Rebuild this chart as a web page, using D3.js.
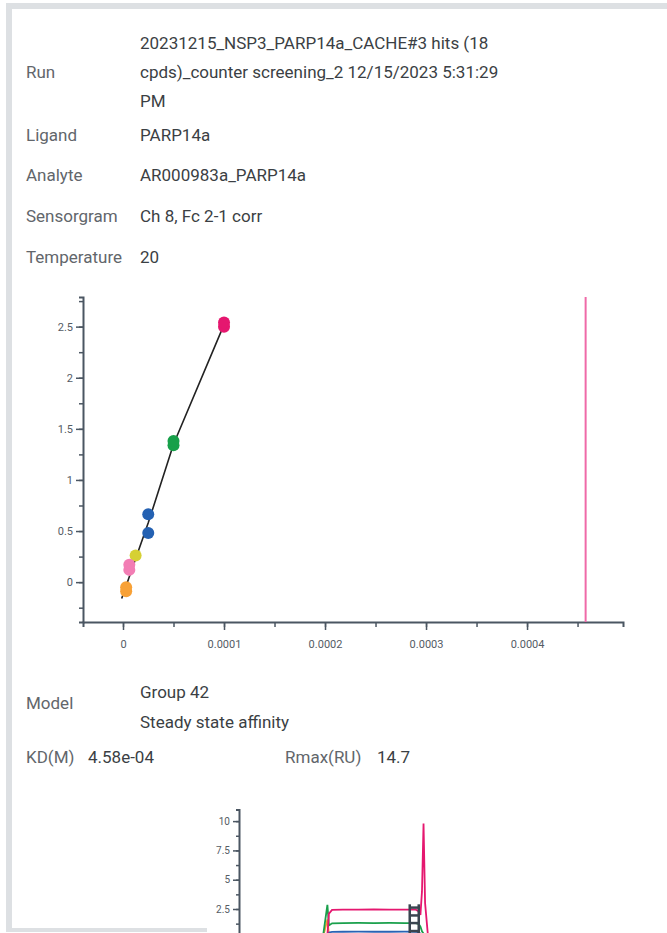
<!DOCTYPE html>
<html>
<head>
<meta charset="utf-8">
<script src="https://cdn.jsdelivr.net/npm/d3@7"></script>
<style>
  body { margin: 0; background: #fff; }
  svg { display: block; font-family: Roboto, "Noto Sans", sans-serif; }
</style>
</head>
<body>
<div id="chart"></div>
<script>
// header table
const infoLabels = ["Run", "Ligand", "Analyte", "Sensorgram", "Temperature"];
const infoValues = [
  ["20231215_NSP3_PARP14a_CACHE#3 hits (18", "cpds)_counter screening_2 12/15/2023 5:31:29", "PM"],
  ["PARP14a"],
  ["AR000983a_PARP14a"],
  ["Ch 8, Fc 2-1 corr"],
  ["20"]
];

// affinity plot: concentration (M) vs response (RU)
const concM   = [1e-4, 1e-4, 5e-5, 5e-5, 2.5e-5, 2.5e-5, 1.25e-5, 6.25e-6, 6.25e-6, 3.125e-6, 3.125e-6];
const respRU  = [2.50, 2.54, 1.34, 1.38, 0.48, 0.665, 0.26, 0.12, 0.17, -0.09, -0.05];
const ptColor = ["#e5176f", "#e5176f", "#17a04a", "#17a04a", "#2461b2", "#2461b2", "#d6d034", "#f27db4", "#f27db4", "#f8a136", "#f8a136"];
const fitConc = [-1.3e-6, 2.5e-5, 5e-5, 1e-4];
const fitResp = [-0.16, 0.58, 1.35, 2.52];
const kdM = 4.58e-4;
const rmaxRU = 14.7;
const modelLines = ["Group 42", "Steady state affinity"];
const yTicksAff = [0, 0.5, 1, 1.5, 2, 2.5];
const xTicksAff = [0, 0.0001, 0.0002, 0.0003, 0.0004];

// sensorgram (visible top part)
const sgTime  = [-3, 0, 1, 3, 10, 20, 30, 40, 50, 57, 59, 60, 61, 62, 63, 65];
const sgPink  = [0, 0.3, 2.1, 2.42, 2.45, 2.44, 2.46, 2.45, 2.44, 2.44, 2.3, 2.0, 4.0, 9.8, 3.0, 0];
const sgGreen = [0, 2.85, 1.1, 1.28, 1.3, 1.31, 1.3, 1.31, 1.3, 1.3, 1.2, 1.0, 0.6, 0.4, 0.2, 0];
const sgBlue  = [0, 0.3, 0.5, 0.55, 0.56, 0.57, 0.56, 0.56, 0.57, 0.56, 0.5, 0.4, 0.2, 0.1, 0, 0];
const sgOrange = [0, 1.6, 0.3, 0.25, 0.25, 0.25, 0.25, 0.25, 0.25, 0.25, 0.2, 0.1, 0, 0, 0, 0];
const reportLevels = [2.62, 1.95, 1.3, 0.62];
const reportTime = 56;
const yTicksSg = [2.5, 5, 7.5, 10];

const W = 667, H = 933;
const svg = d3.select("#chart").append("svg")
  .attr("width", W).attr("height", H);

// card border
svg.append("rect").attr("x", 6).attr("y", 3).attr("width", 6).attr("height", 928).attr("fill", "#dde0e3");
svg.append("rect").attr("x", 6).attr("y", 3).attr("width", W).attr("height", 6).attr("fill", "#dde0e3");
svg.append("rect").attr("x", 6).attr("y", 928).attr("width", 201).attr("height", 4).attr("fill", "#dde0e3");

const labelColor = "#62666b", valueColor = "#3b3f44";
const fs = 17;

// header rows
const rowY = [72, 135, 175, 216, 257];
infoLabels.forEach(function(lab, i) {
  svg.append("text").attr("x", 26).attr("y", rowY[i] + 6)
    .attr("font-size", fs).attr("fill", labelColor).text(lab);
  const n = infoValues[i].length;
  infoValues[i].forEach(function(v, j) {
    svg.append("text").attr("x", 140).attr("y", rowY[i] + 6 + (j - (n - 1) / 2) * 29.2)
      .attr("font-size", fs).attr("fill", valueColor).text(v);
  });
});

// affinity plot
const axisColor = "#4b5662", tickText = "#555c64";
const x = d3.scaleLinear().domain([-0.396e-4, 4.95e-4]).range([83, 623]);
const y = d3.scaleLinear().domain([-0.39, 2.79]).range([622, 297]);

function styleAxis(g) {
  g.select(".domain").attr("stroke", axisColor).attr("stroke-width", 2);
  g.selectAll(".tick line").attr("stroke", axisColor).attr("stroke-width", 1.5);
  g.selectAll(".tick text").attr("fill", tickText).attr("font-size", 11)
    .attr("font-family", "Roboto, sans-serif");
}

// minor ticks
svg.append("g").attr("transform", "translate(83,0)")
  .call(d3.axisLeft(y).tickValues(d3.range(-0.25, 2.8, 0.25)).tickSize(4).tickFormat(""))
  .call(styleAxis);
svg.append("g").attr("transform", "translate(83,0)")
  .call(d3.axisLeft(y).tickValues(yTicksAff).tickSize(7).tickPadding(3).tickFormat(d3.format("")))
  .call(styleAxis)
  .select(".domain").remove();

svg.append("g").attr("transform", "translate(0,622)")
  .call(d3.axisBottom(x).tickValues(d3.range(0, 0.000451, 0.00005)).tickSize(5).tickFormat(""))
  .call(styleAxis);
svg.append("g").attr("transform", "translate(0,622)")
  .call(d3.axisBottom(x).tickValues(xTicksAff).tickSize(8).tickPadding(10).tickFormat(d3.format("")))
  .call(styleAxis)
  .select(".domain").remove();

// KD marker
svg.append("line")
  .attr("x1", x(kdM)).attr("x2", x(kdM))
  .attr("y1", y(2.79)).attr("y2", y(-0.39))
  .attr("stroke", "#ef6aa8").attr("stroke-width", 2);

// fit line
svg.append("path")
  .datum(d3.zip(fitConc, fitResp))
  .attr("fill", "none").attr("stroke", "#222").attr("stroke-width", 1.6)
  .attr("d", d3.line().x(d => x(d[0])).y(d => y(d[1])));

// points
svg.selectAll("circle.pt")
  .data(d3.range(concM.length))
  .join("circle")
    .attr("class", "pt")
    .attr("cx", i => x(concM[i]))
    .attr("cy", i => y(respRU[i]))
    .attr("r", 6)
    .attr("fill", i => ptColor[i]);

// model / results
svg.append("text").attr("x", 26).attr("y", 709).attr("font-size", fs).attr("fill", labelColor).text("Model");
modelLines.forEach(function(t, j) {
  svg.append("text").attr("x", 140).attr("y", 698 + j * 30).attr("font-size", fs).attr("fill", valueColor).text(t);
});
svg.append("text").attr("x", 26).attr("y", 763).attr("font-size", fs).attr("fill", labelColor).text("KD(M)");
svg.append("text").attr("x", 88).attr("y", 763).attr("font-size", fs).attr("fill", valueColor).text(kdM.toExponential(2).replace("e-4", "e-04"));
svg.append("text").attr("x", 285).attr("y", 763).attr("font-size", fs).attr("fill", labelColor).text("Rmax(RU)");
svg.append("text").attr("x", 377).attr("y", 763).attr("font-size", fs).attr("fill", valueColor).text(rmaxRU);

// sensorgram
const sx = d3.scaleLinear().domain([-57, 150]).range([239, 560]);
const sy = d3.scaleLinear().domain([0, 11]).range([938.3, 809.4]);

svg.append("g").attr("transform", "translate(239,0)")
  .call(d3.axisLeft(sy).tickValues(d3.range(1.25, 11, 1.25)).tickSize(3).tickFormat(""))
  .call(styleAxis);
svg.append("g").attr("transform", "translate(239,0)")
  .call(d3.axisLeft(sy).tickValues(yTicksSg).tickSize(6).tickPadding(3).tickFormat(d3.format("")))
  .call(styleAxis)
  .call(g => g.selectAll(".tick text").attr("font-size", 10))
  .select(".domain").remove();

const sgLine = d3.line().x((d, i) => sx(sgTime[i])).y(d => sy(d));
[[sgOrange, "#f5a030"], [sgBlue, "#2a63b4"], [sgGreen, "#1aa04c"], [sgPink, "#e5176f"]].forEach(function(s) {
  svg.append("path").datum(s[0])
    .attr("fill", "none").attr("stroke", s[1]).attr("stroke-width", 1.8)
    .attr("d", sgLine);
});

// report point markers
[-4.5, 4.5].forEach(function(dx) {
  svg.append("line")
    .attr("x1", sx(reportTime) + dx).attr("x2", sx(reportTime) + dx)
    .attr("y1", sy(2.9)).attr("y2", H)
    .attr("stroke", "#3a4550").attr("stroke-width", 2.5);
});
svg.selectAll("line.rp")
  .data(reportLevels)
  .join("line")
    .attr("class", "rp")
    .attr("x1", sx(reportTime) - 4.5).attr("x2", sx(reportTime) + 4.5)
    .attr("y1", d => sy(d)).attr("y2", d => sy(d))
    .attr("stroke", "#3a4550").attr("stroke-width", 2.5);
</script>
</body>
</html>
